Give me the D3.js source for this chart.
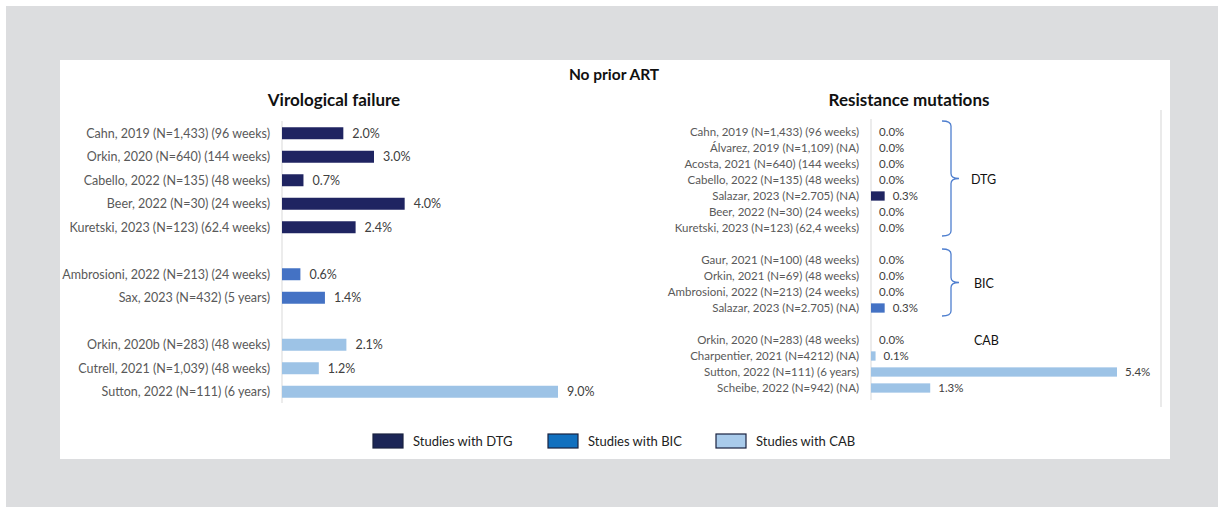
<!DOCTYPE html>
<html>
<head>
<meta charset="utf-8">
<script src="https://cdn.jsdelivr.net/npm/d3@7"></script>
<style>
  body { margin: 0; background: #fff; }
  svg { display: block; font-family: Lato, "Open Sans", sans-serif; }
</style>
</head>
<body>
<svg id="chart" width="1218" height="507"></svg>
<script>
// Virological failure (left panel)
const vfStudies = [
    "Cahn, 2019 (N=1,433) (96 weeks)",
    "Orkin, 2020 (N=640) (144 weeks)",
    "Cabello, 2022 (N=135) (48 weeks)",
    "Beer, 2022 (N=30) (24 weeks)",
    "Kuretski, 2023 (N=123) (62.4 weeks)",
    "Ambrosioni, 2022 (N=213) (24 weeks)",
    "Sax, 2023 (N=432) (5 years)",
    "Orkin, 2020b (N=283) (48 weeks)",
    "Cutrell, 2021 (N=1,039) (48 weeks)",
    "Sutton, 2022 (N=111) (6 years)"
];
const vfValues = [2.0, 3.0, 0.7, 4.0, 2.4, 0.6, 1.4, 2.1, 1.2, 9.0];
const vfDrug = ["DTG", "DTG", "DTG", "DTG", "DTG", "BIC", "BIC", "CAB", "CAB", "CAB"];

// Resistance mutations (right panel)
const rmStudies = [
    "Cahn, 2019 (N=1,433) (96 weeks)",
    "Álvarez, 2019 (N=1,109) (NA)",
    "Acosta, 2021 (N=640) (144 weeks)",
    "Cabello, 2022 (N=135) (48 weeks)",
    "Salazar, 2023 (N=2.705) (NA)",
    "Beer, 2022 (N=30) (24 weeks)",
    "Kuretski, 2023 (N=123) (62,4 weeks)",
    "Gaur, 2021 (N=100) (48 weeks)",
    "Orkin, 2021 (N=69) (48 weeks)",
    "Ambrosioni, 2022 (N=213) (24 weeks)",
    "Salazar, 2023 (N=2.705) (NA)",
    "Orkin, 2020 (N=283) (48 weeks)",
    "Charpentier, 2021 (N=4212) (NA)",
    "Sutton, 2022 (N=111) (6 years)",
    "Scheibe, 2022 (N=942) (NA)"
];
const rmValues = [0.0, 0.0, 0.0, 0.0, 0.3, 0.0, 0.0, 0.0, 0.0, 0.0, 0.3, 0.0, 0.1, 5.4, 1.3];
const rmDrug = ["DTG", "DTG", "DTG", "DTG", "DTG", "DTG", "DTG", "BIC", "BIC", "BIC", "BIC", "CAB", "CAB", "CAB", "CAB"];

const drugs = ["DTG", "BIC", "CAB"];
const legendLabels = ["Studies with DTG", "Studies with BIC", "Studies with CAB"];

const barColor = d3.scaleOrdinal().domain(drugs).range(["#1f2461", "#4472c4", "#9dc3e6"]);
const legendColor = d3.scaleOrdinal().domain(drugs).range(["#1c2657", "#1170bf", "#a9cbeb"]);

const svg = d3.select("#chart");

// background frame
svg.append("rect").attr("x", 6).attr("y", 6).attr("width", 1212).attr("height", 501).attr("fill", "#dcdddf");
svg.append("rect").attr("x", 60).attr("y", 60).attr("width", 1110).attr("height", 399).attr("fill", "#fff");

// titles
svg.append("text").attr("x", 614).attr("y", 80).attr("text-anchor", "middle")
    .attr("font-size", 15.5).attr("font-weight", "bold").attr("fill", "#111").text("No prior ART");
svg.append("text").attr("x", 334).attr("y", 106).attr("text-anchor", "middle")
    .attr("font-size", 17).attr("font-weight", "bold").attr("fill", "#111").text("Virological failure");
svg.append("text").attr("x", 909).attr("y", 106).attr("text-anchor", "middle")
    .attr("font-size", 17).attr("font-weight", "bold").attr("fill", "#111").text("Resistance mutations");

// insert an empty row between drug groups
function withGaps(studies, drug) {
    const rows = [];
    studies.forEach((s, i) => {
        if (i > 0 && drug[i] !== drug[i - 1]) rows.push({ key: "gap" + i, gap: true });
        rows.push({ key: "r" + i, i: i });
    });
    return rows;
}

function drawPanel(opts) {
    const rows = withGaps(opts.studies, opts.drug);
    const y = d3.scaleBand()
        .domain(rows.map(r => r.key))
        .range(opts.yRange)
        .paddingInner(opts.pad)
        .paddingOuter(opts.pad / 2);
    const x = d3.scaleLinear().domain(opts.xDomain).range(opts.xRange);

    const g = svg.append("g");

    g.append("line")
        .attr("x1", x(0)).attr("x2", x(0))
        .attr("y1", opts.axisY[0]).attr("y2", opts.axisY[1])
        .attr("stroke", "#d9d9d9").attr("stroke-width", 1);

    const data = rows.filter(r => !r.gap).map(r => ({
        key: r.key,
        name: opts.studies[r.i],
        value: opts.values[r.i],
        drug: opts.drug[r.i]
    }));

    g.selectAll("rect.bar").data(data).join("rect")
        .attr("class", "bar")
        .attr("x", x(0))
        .attr("y", d => y(d.key))
        .attr("width", d => x(d.value) - x(0))
        .attr("height", y.bandwidth())
        .attr("fill", d => barColor(d.drug));

    g.selectAll("text.cat").data(data).join("text")
        .attr("class", "cat")
        .attr("x", x(0) - 12)
        .attr("y", d => y(d.key) + y.bandwidth() / 2)
        .attr("dy", "0.35em")
        .attr("text-anchor", "end")
        .attr("font-size", opts.fontSize)
        .attr("fill", "#595959")
        .text(d => d.name);

    g.selectAll("text.val").data(data).join("text")
        .attr("class", "val")
        .attr("x", d => x(d.value) + opts.valGap)
        .attr("y", d => y(d.key) + y.bandwidth() / 2)
        .attr("dy", "0.35em")
        .attr("font-size", opts.fontSize)
        .attr("fill", "#404040")
        .text(d => d.value.toFixed(1) + "%");

    return { x, y, data };
}

drawPanel({
    studies: vfStudies, values: vfValues, drug: vfDrug,
    xDomain: [0, 9], xRange: [282, 558],
    yRange: [121.5, 403.5], pad: 0.49,
    axisY: [121, 403], fontSize: 12.5, valGap: 9
});

const right = drawPanel({
    studies: rmStudies, values: rmValues, drug: rmDrug,
    xDomain: [0, 5.4], xRange: [871, 1117],
    yRange: [124, 396], pad: 0.42,
    axisY: [119, 400], fontSize: 11.5, valGap: 8
});

// right panel border line
svg.append("line").attr("x1", 1161).attr("x2", 1161).attr("y1", 110).attr("y2", 407)
    .attr("stroke", "#e3e3e3").attr("stroke-width", 1.5);

// group braces on the right panel
function bracePath(top, bottom, x0, x1, x2) {
    const mid = (top + bottom) / 2, r = 5;
    return `M${x0},${top} Q${x1},${top} ${x1},${top + r} L${x1},${mid - r} Q${x1},${mid} ${x2},${mid}` +
        ` Q${x1},${mid} ${x1},${mid + r} L${x1},${bottom - r} Q${x1},${bottom} ${x0},${bottom}`;
}

const yr = right.y;
const half = yr.bandwidth() / 2;
drugs.forEach(drug => {
    const rows = right.data.filter(d => d.drug === drug);
    const first = yr(rows[0].key) + half;
    const last = yr(rows[rows.length - 1].key) + half;
    let labelY = (first + last) / 2;
    if (drug !== "CAB") {
        svg.append("path")
            .attr("d", bracePath(first - 11, last + 8, 942, 951, 959))
            .attr("fill", "none").attr("stroke", "#4f7fcf").attr("stroke-width", 1.3);
    } else {
        labelY = first + 1;
    }
    svg.append("text")
        .attr("x", drug === "DTG" ? 971 : 974)
        .attr("y", labelY)
        .attr("dy", "0.35em")
        .attr("font-size", 12.5)
        .attr("fill", "#111")
        .text(drug);
});

// legend
const legendX = [373, 548, 716];
const legend = svg.append("g");
drugs.forEach((drug, i) => {
    legend.append("rect")
        .attr("x", legendX[i]).attr("y", 434)
        .attr("width", 30).attr("height", 14)
        .attr("fill", legendColor(drug))
        .attr("stroke", "#1a2240").attr("stroke-width", 1.2);
    legend.append("text")
        .attr("x", legendX[i] + 40).attr("y", 441)
        .attr("dy", "0.35em")
        .attr("font-size", 13)
        .attr("fill", "#222")
        .text(legendLabels[i]);
});
</script>
</body>
</html>
